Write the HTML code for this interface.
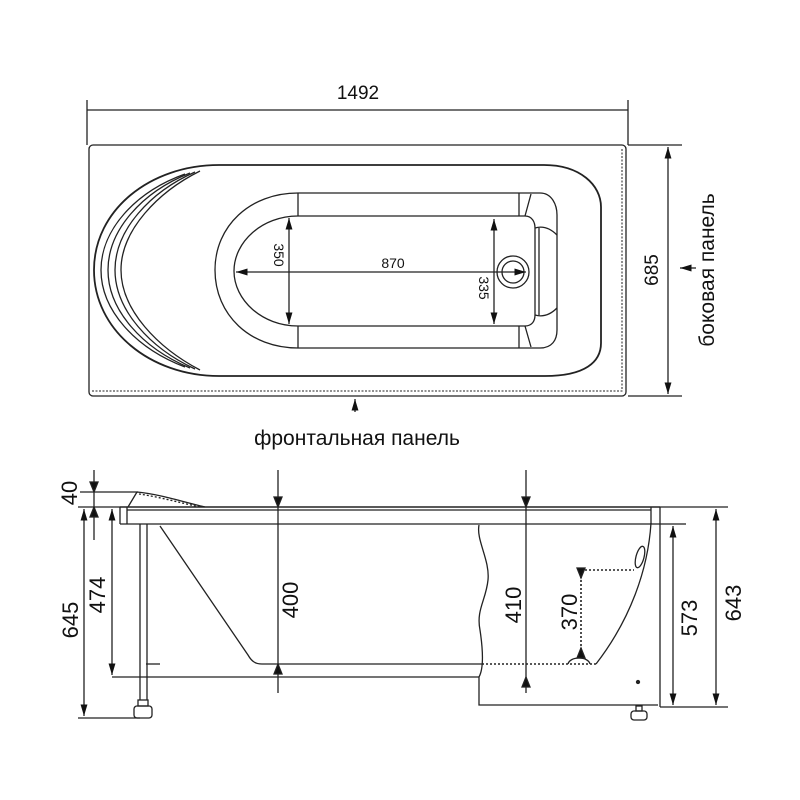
<!DOCTYPE html>
<html><head><meta charset="utf-8"><style>
html,body{margin:0;padding:0;background:#fff;}
svg{display:block;}
text{font-family:"Liberation Sans",sans-serif;fill:#111;}
</style></head><body>
<svg width="800" height="800" viewBox="0 0 800 800" xmlns="http://www.w3.org/2000/svg">
<defs>
<marker id="a" viewBox="0 0 10 10" refX="10" refY="5" markerWidth="9" markerHeight="9" orient="auto-start-reverse"><path d="M0,2 L10,5 L0,8 z" fill="#111"/></marker>
</defs>
<g fill="none" stroke="#222" stroke-width="1.3">
<!-- TOP VIEW -->
<line x1="87" y1="100" x2="87" y2="145"/>
<line x1="628" y1="100" x2="628" y2="145"/>
<line x1="87" y1="110" x2="628" y2="110"/>
<rect x="89" y="145" width="537" height="251" rx="4"/>
<path d="M92 391 H622 V148" stroke-dasharray="2,1.5" stroke-width="1"/>
<line x1="628" y1="145" x2="682" y2="145"/>
<line x1="628" y1="396" x2="682" y2="396"/>
<line x1="668" y1="147" x2="668" y2="394" marker-start="url(#a)" marker-end="url(#a)"/>
<line x1="696" y1="268" x2="680" y2="268" marker-end="url(#a)"/>
<line x1="355" y1="412" x2="355" y2="399" marker-end="url(#a)"/>
<!-- basin outer -->
<path d="M219 165 H544 C580 165 601 185 601 207 V343 C601 362 585 376 545 376 H219 C150 376 94 330 94 270 C94 210 150 165 219 165 Z" stroke-width="1.8"/>
<path d="M185 174 C135 192 101 230 101 270 C101 310 135 348 185 367"/>
<path d="M190 173 C142 192 108 230 108 270 C108 310 142 348 190 368"/>
<path d="M195 172 C150 192 115 230 115 270 C115 310 150 348 195 369"/>
<path d="M200 171 C158 192 121 230 121 270 C121 310 158 348 200 370"/>
<!-- inner basin -->
<path d="M298 193 H540 C552 193 557 205 557 215 V330 C557 340 552 348 540 348 H298 C250 348 215 315 215 270 C215 226 250 193 298 193 Z"/>
<path d="M298 216 H525 C532 216 535 222 535 228 V315 C535 321 532 326 525 326 H298 C262 326 234 300 234 271 C234 242 262 216 298 216 Z"/>
<line x1="298" y1="193" x2="298" y2="216"/><line x1="298" y1="326" x2="298" y2="348"/>
<line x1="519" y1="193" x2="519" y2="216"/><line x1="519" y1="326" x2="519" y2="348"/>
<path d="M531 194 L525 216 M531 347 L525 326 M535 228 C545 225 552 230 557 235 M535 315 C545 318 552 313 557 308 M539 228 V315"/>
<circle cx="513" cy="272" r="16"/><circle cx="513" cy="272" r="11"/>
<line x1="236" y1="272" x2="526" y2="272" marker-start="url(#a)" marker-end="url(#a)"/>
<line x1="289" y1="218" x2="289" y2="324" marker-start="url(#a)" marker-end="url(#a)"/>
<line x1="494" y1="219" x2="494" y2="324" marker-start="url(#a)" marker-end="url(#a)"/>

<!-- SIDE VIEW -->
<line x1="120" y1="507" x2="660" y2="507" stroke-width="1.6"/>
<line x1="127" y1="510" x2="651" y2="510"/>
<line x1="120" y1="524" x2="680" y2="524"/>
<path d="M120 507 V524 M127 507 V524 M651 507 V524 M660 507 V707"/>
<path d="M137 492 L128 507 M137 492 C160 494 190 504 205 507" />
<path d="M139 494 C160 497 185 504 200 507" stroke-dasharray="2,2"/>
<line x1="80" y1="492" x2="138" y2="492"/>
<path d="M140 524 V700 M147 524 V700"/>
<rect x="134" y="706" width="18" height="12" rx="3"/>
<rect x="138" y="700" width="10" height="6"/>
<path d="M160 526 L248 655 C252 662 256 664 262 664 H482"/>
<line x1="146" y1="664" x2="160" y2="664"/>
<path d="M482 664 H596" stroke-dasharray="2,2" stroke-width="1.6"/>
<line x1="112" y1="677" x2="479" y2="677"/>
<path d="M479 525 C476 540 490 560 488 580 C486 600 476 610 480 630 C483 650 484 668 479 677 V705 H658"/>
<path d="M651 523 C648 570 630 620 596 664"/>
<ellipse cx="640" cy="557" rx="4" ry="11" transform="rotate(15 640 557)"/>
<path d="M581 570 H634" stroke-dasharray="2,2" stroke-width="1.6"/>
<line x1="581" y1="572" x2="581" y2="656" stroke-dasharray="2,2" stroke-width="1.6"/>
<path d="M577 568 L581 578 L585 568 Z M577 658 L581 648 L585 658 Z" fill="#111"/>
<path d="M568 664 C570 656 588 656 590 664"/>
<circle cx="638" cy="682" r="1.5" fill="#222"/>
<rect x="631" y="711" width="16" height="9" rx="3"/><rect x="636" y="706" width="6" height="5"/>
<line x1="278" y1="470" x2="278" y2="693"/>
<path d="M274 497 L278 507 L282 497 Z M274 674 L278 664 L282 674 Z" fill="#111"/>
<line x1="526" y1="470" x2="526" y2="693"/>
<path d="M522 497 L526 507 L530 497 Z M522 687 L526 677 L530 687 Z" fill="#111"/>
<line x1="680" y1="524" x2="686" y2="524"/>
<line x1="660" y1="707" x2="728" y2="707"/>
<line x1="660" y1="507" x2="728" y2="507"/>
<line x1="673" y1="526" x2="673" y2="705" marker-start="url(#a)" marker-end="url(#a)"/>
<line x1="716" y1="509" x2="716" y2="705" marker-start="url(#a)" marker-end="url(#a)"/>
<line x1="78" y1="718" x2="140" y2="718"/>
<line x1="78" y1="507" x2="120" y2="507"/>
<line x1="84" y1="509" x2="84" y2="716" marker-start="url(#a)" marker-end="url(#a)"/>
<line x1="112" y1="509" x2="112" y2="675" marker-start="url(#a)" marker-end="url(#a)"/>
<line x1="94" y1="470" x2="94" y2="540"/>
<path d="M90 482 L94 492 L98 482 Z M90 517 L94 507 L98 517 Z" fill="#111"/>
</g>
<g font-size="14">
<text x="358" y="99" text-anchor="middle" font-size="19">1492</text>
<text x="393" y="268" text-anchor="middle">870</text>
<text transform="translate(274,255) rotate(90)" text-anchor="middle">350</text>
<text transform="translate(479,288) rotate(90)" text-anchor="middle">335</text>
<text transform="translate(658,270) rotate(-90)" text-anchor="middle" font-size="19">685</text>
<text transform="translate(714,270) rotate(-90)" text-anchor="middle" font-size="21">боковая панель</text>
<text x="357" y="445" text-anchor="middle" font-size="21">фронтальная панель</text>
</g>
<g font-size="22">
<text transform="translate(77,493) rotate(-90)" text-anchor="middle">40</text>
<text transform="translate(78,620) rotate(-90)" text-anchor="middle">645</text>
<text transform="translate(105,595) rotate(-90)" text-anchor="middle">474</text>
<text transform="translate(298,600) rotate(-90)" text-anchor="middle">400</text>
<text transform="translate(521,605) rotate(-90)" text-anchor="middle">410</text>
<text transform="translate(577,612) rotate(-90)" text-anchor="middle">370</text>
<text transform="translate(697,618) rotate(-90)" text-anchor="middle">573</text>
<text transform="translate(741,603) rotate(-90)" text-anchor="middle">643</text>
</g>
</svg>
</body></html>
